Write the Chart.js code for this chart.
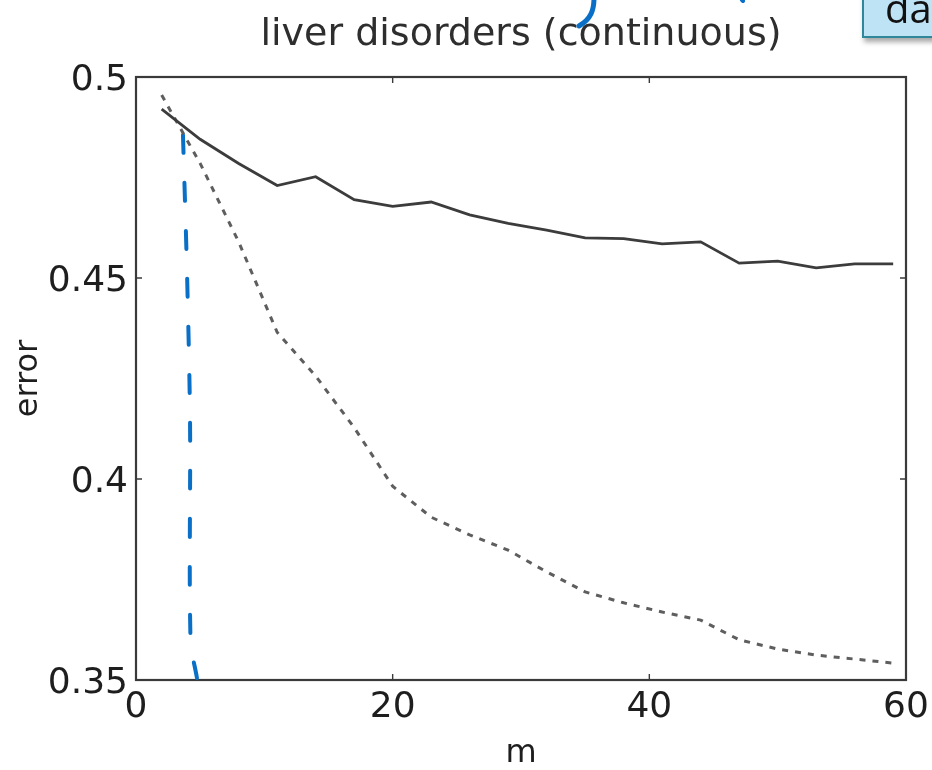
<!DOCTYPE html>
<html>
<head>
<meta charset="utf-8">
<title>liver disorders (continuous)</title>
<script src="https://cdn.jsdelivr.net/npm/chart.js@4.4.1/dist/chart.umd.min.js"></script>
<style>
  html, body { margin: 0; padding: 0; background: #fff; overflow: hidden; }
  #wrap { position: relative; width: 932px; height: 770px; overflow: hidden; }
  #errorChart { position: absolute; left: 0; top: 0; }
  #ink { position: absolute; left: 0; top: 0; pointer-events: none; }
  .callout {
    position: absolute; left: 862px; top: -12px; width: 110px; height: 46px;
    background: #bee3f5; border: 2px solid #2f879a;
    box-shadow: 2px 4px 5px rgba(0, 0, 0, 0.35);
    font-family: "Open Sans", sans-serif; font-size: 40px; line-height: 1; color: #111;
  }
  .callout span { position: absolute; left: 21px; top: -2px; }
</style>
</head>
<body>
<div id="wrap">
  <canvas id="errorChart" width="932" height="770"></canvas>
  <svg id="ink" width="932" height="770">
    <path d="M594,-2 C594,10 591,19 579,26" fill="none" stroke="#0a6fc6" stroke-width="5" stroke-linecap="round"/>
    <path d="M742,0 L743,1" fill="none" stroke="#0a6fc6" stroke-width="4" stroke-linecap="round"/>
  </svg>
  <div class="callout"><span>da</span></div>
</div>
<script>
// error vs m, every third m from 2 to 59
const mValues = [2, 5, 8, 11, 14, 17, 20, 23, 26, 29, 32, 35, 38, 41, 44, 47, 50, 53, 56, 59];
const solidError = [0.4920, 0.4845, 0.4785, 0.4730, 0.4752, 0.4695, 0.4678, 0.4689, 0.4657, 0.4636,
                    0.4619, 0.4600, 0.4598, 0.4585, 0.4590, 0.4537, 0.4542, 0.4525, 0.4535, 0.4535];
const dashedError = [0.4955, 0.4785, 0.4590, 0.4365, 0.4256, 0.4128, 0.3982, 0.3905, 0.3861, 0.3823,
                     0.3769, 0.3719, 0.3692, 0.3669, 0.3649, 0.3600, 0.3577, 0.3562, 0.3552, 0.3542];

// hand-drawn blue marker stroke
const penM = [3.66, 3.97, 4.21, 4.25, 4.75];
const penError = [0.4856, 0.4520, 0.4147, 0.3600, 0.3505];

const xTicks = [0, 20, 40, 60];
const yTicks = [0.35, 0.4, 0.45, 0.5];

const toPoints = (xs, ys) => xs.map((x, i) => ({ x: x, y: ys[i] }));

// matlab style box with inward tick marks
const boxFrame = {
  id: 'boxFrame',
  beforeDatasetsDraw(chart) {
    const { ctx, chartArea: a, scales: { x, y } } = chart;
    ctx.save();
    ctx.strokeStyle = '#3a3a3a';
    ctx.lineWidth = 2.2;
    ctx.strokeRect(a.left, a.top, a.right - a.left, a.bottom - a.top);
    ctx.lineWidth = 1.4;
    ctx.beginPath();
    xTicks.forEach(v => {
      const px = x.getPixelForValue(v);
      ctx.moveTo(px, a.bottom); ctx.lineTo(px, a.bottom - 6);
      ctx.moveTo(px, a.top); ctx.lineTo(px, a.top + 6);
    });
    yTicks.forEach(v => {
      const py = y.getPixelForValue(v);
      ctx.moveTo(a.left, py); ctx.lineTo(a.left + 6, py);
      ctx.moveTo(a.right, py); ctx.lineTo(a.right - 6, py);
    });
    ctx.stroke();
    ctx.restore();
  }
};

const labelFont = { family: 'DejaVu Sans', size: 36, lineHeight: 1 };

const ctx = document.getElementById('errorChart').getContext('2d');
const errorChart = new Chart(ctx, {
  type: 'line',
  data: {
    datasets: [{
      label: 'solid',
      data: toPoints(mValues, solidError),
      borderColor: '#3c3c3c',
      borderWidth: 2.8,
      pointRadius: 0,
      tension: 0
    }, {
      label: 'dashed',
      data: toPoints(mValues, dashedError),
      borderColor: '#5e5e5e',
      borderWidth: 3,
      borderDash: [6, 7],
      pointRadius: 0,
      tension: 0
    }, {
      label: 'pen',
      data: toPoints(penM, penError),
      borderColor: '#0a6fc6',
      borderWidth: 4,
      borderDash: [18, 30],
      borderCapStyle: 'round',
      pointRadius: 0,
      tension: 0.3
    }]
  },
  options: {
    responsive: false,
    animation: false,
    devicePixelRatio: 1,
    layout: { padding: { left: 0, right: 26, top: 0, bottom: 0 } },
    plugins: {
      legend: { display: false },
      tooltip: { enabled: false },
      title: {
        display: true,
        text: 'liver disorders (continuous)',
        fullSize: false,
        color: '#2e2e2e',
        font: { family: 'DejaVu Sans', size: 38, weight: 'normal', lineHeight: 1 },
        padding: { top: 16, bottom: 23 }
      }
    },
    scales: {
      x: {
        type: 'linear',
        min: 0,
        max: 60,
        afterBuildTicks: s => { s.ticks = xTicks.map(v => ({ value: v })); },
        afterFit: s => { s.height = 90; s.paddingLeft = 0; s.paddingRight = 26; },
        grid: { display: false, drawTicks: false },
        border: { display: false },
        ticks: { color: '#1e1e1e', padding: 10, maxRotation: 0, font: labelFont },
        title: {
          display: true, text: 'm', color: '#1e1e1e',
          font: { family: 'DejaVu Sans', size: 32, lineHeight: 1 },
          padding: { top: 0, bottom: 0 }
        }
      },
      y: {
        min: 0.35,
        max: 0.5,
        afterBuildTicks: s => { s.ticks = yTicks.map(v => ({ value: v })); },
        afterFit: s => { s.width = 136; },
        grid: { display: false, drawTicks: false },
        border: { display: false },
        ticks: {
          color: '#1e1e1e', padding: 8, labelOffset: 4, font: labelFont,
          callback: v => String(+v.toFixed(2))
        },
        title: {
          display: true, text: 'error', color: '#1e1e1e',
          font: { family: 'DejaVu Sans', size: 32, lineHeight: 1.2 },
          padding: { top: 9, bottom: 0 }
        }
      }
    }
  },
  plugins: [boxFrame]
});
</script>
</body>
</html>
